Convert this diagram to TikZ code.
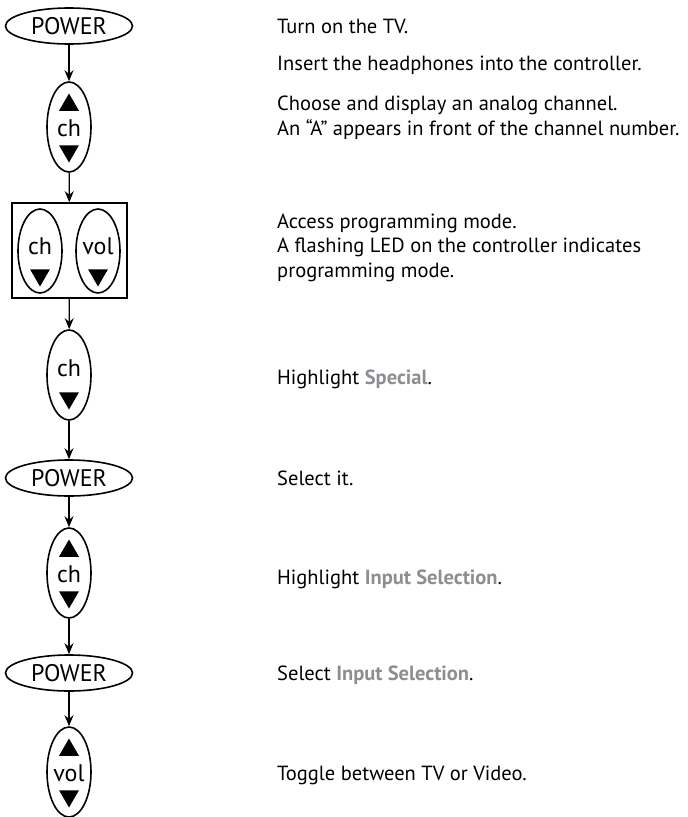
\documentclass[tikz,border=0pt]{standalone}
\usepackage{fontspec}
\setmainfont{PT Sans}
\usetikzlibrary{arrows.meta,positioning,shapes.geometric}
\definecolor{rcGrey}{HTML}{8C8E91}

\begin{document}
\begin{tikzpicture}[x=1pt, y=-1pt,
  key/.style={draw, line width=1.6pt, ellipse, inner sep=0pt, minimum width=44pt, minimum height=90pt},
  pwr/.style={draw, line width=1.6pt, ellipse, inner sep=0pt, minimum width=127pt, minimum height=36pt, font=\fontsize{24}{24}\selectfont},
  keyfield/.style={draw, line width=1.6pt, inner sep=0pt, minimum width=115pt, minimum height=95pt},
  keylbl/.style={inner sep=0pt, font=\fontsize{24}{24}\selectfont},
  upmark/.style={fill, regular polygon, regular polygon sides=3, inner sep=0pt, minimum size=23pt},
  dnmark/.style={upmark, shape border rotate=180},
  stepnote/.style={anchor=base west, align=left, inner sep=0pt, font=\fontsize{20.5}{24.5}\selectfont},
  flow/.style={-{Stealth[length=11pt,width=9pt]}, line width=1.3pt}
]
  \useasboundingbox (0,0) rectangle (688,817);

  % left column: keys to press
  \node[pwr] (pw1) at (69,26) {POWER};

  \node[key] (ud1) at (69,127) {};
  \node[upmark] (ud1up) at (69,105) {};
  \node[keylbl] (ud1lbl) at (69,128) {ch};
  \node[dnmark] (ud1dn) at (69,151) {};

  \node[keyfield] (pair) at (69.5,250.5) {};
  \node[key, minimum height=84pt] (pch) at (40,251) {};
  \node[keylbl] (pchlbl) at (40,246) {ch};
  \node[dnmark] (pchdn) at (40,275) {};
  \node[key, minimum height=84pt] (pvol) at (98,251) {};
  \node[keylbl] (pvollbl) at (98,246) {vol};
  \node[dnmark] (pvoldn) at (98,275) {};

  \node[key] (dn2) at (69,375) {};
  \node[keylbl] (dn2lbl) at (69,368) {ch};
  \node[dnmark] (dn2dn) at (69,398) {};

  \node[pwr] (pw2) at (69,478) {POWER};

  \node[key] (ud3) at (69,573) {};
  \node[upmark] (ud3up) at (69,551) {};
  \node[keylbl] (ud3lbl) at (69,574) {ch};
  \node[dnmark] (ud3dn) at (69,597) {};

  \node[pwr] (pw3) at (69,673) {POWER};

  \node[key] (vol4) at (69,772) {};
  \node[upmark] (vol4up) at (69,750) {};
  \node[keylbl] (vol4lbl) at (69,773) {vol};
  \node[dnmark] (vol4dn) at (69,796) {};

  \draw[flow] (pw1) -- (ud1);
  \draw[flow] (ud1) -- (pair);
  \draw[flow] (pair) -- (dn2);
  \draw[flow] (dn2) -- (pw2);
  \draw[flow] (pw2) -- (ud3);
  \draw[flow] (ud3) -- (pw3);
  \draw[flow] (pw3) -- (vol4);

  % right column: what each step does
  \node[stepnote] (t1) at (277,33) {Turn on the TV.};
  \node[stepnote] (t2) at (277,70) {Insert the headphones into the controller.};
  \node[stepnote] (t3) at (277,135) {Choose and display an analog channel.\\An “A” appears in front of the channel number.};
  \node[stepnote] (t4) at (277,277) {Access programming mode.\\A flashing LED on the controller indicates\\programming mode.};
  \node[stepnote] (t5) at (277,384) {Highlight \textcolor{rcGrey}{\textbf{Special}}.};
  \node[stepnote] (t6) at (277,485) {Select it.};
  \node[stepnote] (t7) at (277,584) {Highlight \textcolor{rcGrey}{\textbf{Input Selection}}.};
  \node[stepnote] (t8) at (277,680) {Select \textcolor{rcGrey}{\textbf{Input Selection}}.};
  \node[stepnote] (t9) at (277,780) {Toggle between TV or Video.};
\end{tikzpicture}
\end{document}
